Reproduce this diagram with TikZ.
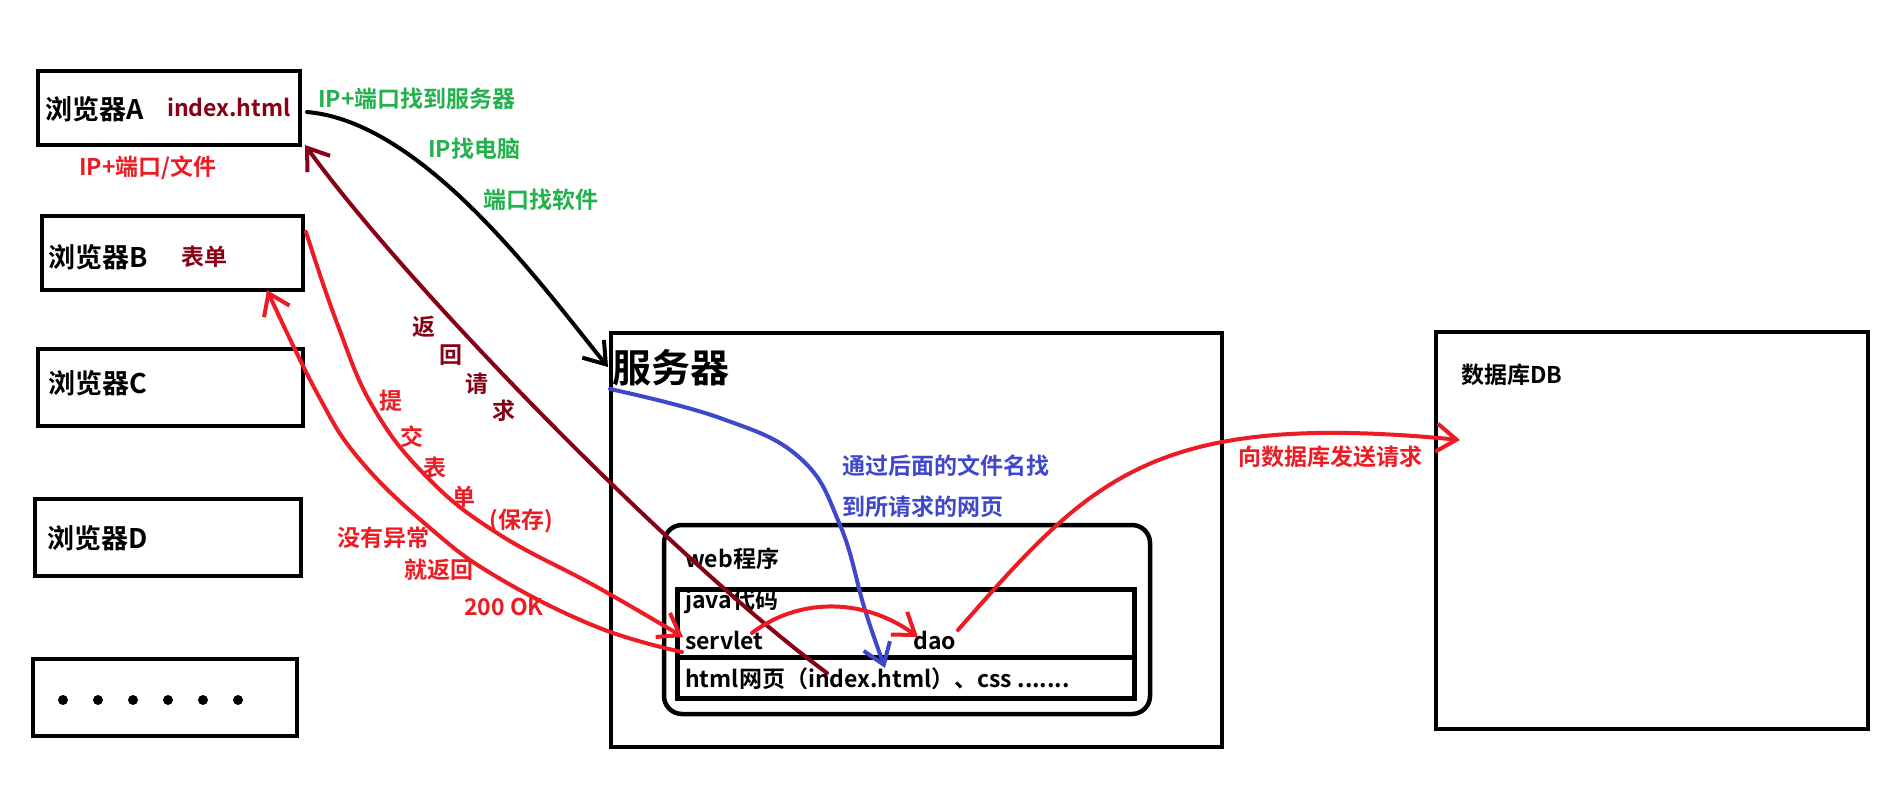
\documentclass[tikz,border=0pt]{standalone}
\usepackage{fontspec}
\setmainfont{Noto Sans CJK SC}[BoldFont={Noto Sans CJK SC Bold}]
\usetikzlibrary{arrows.meta}
\definecolor{pred}{HTML}{ED1C24}
\definecolor{pdred}{HTML}{880015}
\definecolor{pgreen}{HTML}{22B14C}
\definecolor{pblue}{HTML}{3F48CC}
\tikzset{
  box/.style={draw=black, line width=4.5pt, inner sep=0pt},
  lbl/.style={inner sep=0pt, anchor=west, font=\bfseries\fontsize{23pt}{23pt}\selectfont, text height=20.2pt, text depth=2.8pt},
  clbl/.style={lbl, anchor=center},
  blbl/.style={inner sep=0pt, anchor=west, font=\bfseries\fontsize{27pt}{27pt}\selectfont, text height=23.8pt, text depth=3.2pt},
  dotn/.style={circle, fill=black, inner sep=0pt, minimum size=10pt},
  conn/.style={line width=4pt, line cap=round, line join=round},
  tip/.style={-{Straight Barb[length=20pt,width=28pt]}},
}
\begin{document}
\begin{tikzpicture}[x=1pt,y=-1pt]
\useasboundingbox (0,0) rectangle (1894,803);
\fill[white] (0,0) rectangle (1894,803);

% browser boxes
\node[box, minimum width=262pt, minimum height=74pt] (bA) at (169,108) {};
\node[box, minimum width=261pt, minimum height=74pt] (bB) at (172.5,253) {};
\node[box, minimum width=265pt, minimum height=77pt] (bC) at (170.5,387.5) {};
\node[box, minimum width=266pt, minimum height=77pt] (bD) at (168,537.5) {};
\node[box, minimum width=264pt, minimum height=77pt] (bE) at (165,697.5) {};
% server, web, db
\node[box, minimum width=611pt, minimum height=414pt] (srv) at (916.5,540) {};
\node[box, rounded corners=18pt, minimum width=486pt, minimum height=189pt] (web) at (907,619.5) {};
\node[box, line width=5pt, minimum width=457pt, minimum height=68pt] (jv) at (905.5,623) {};
\node[box, line width=5pt, minimum width=457pt, minimum height=41pt] (ht) at (905.5,677.5) {};
\node[box, minimum width=432pt, minimum height=397pt] (db) at (1652,530.5) {};

% dots
\node[dotn] (d1) at (63,700) {};
\node[dotn] (d2) at (98,700) {};
\node[dotn] (d3) at (133,700) {};
\node[dotn] (d4) at (168,700) {};
\node[dotn] (d5) at (203,700) {};
\node[dotn] (d6) at (238,700) {};

% box labels
\node[blbl] (tA) at (45,109) {浏览器A};
\node[lbl, text=pdred] (tAi) at (167,108) {index.html};
\node[blbl] (tB) at (48,257) {浏览器B};
\node[lbl, text=pdred] (tBf) at (181,257) {表单};
\node[blbl] (tC) at (48,383) {浏览器C};
\node[blbl] (tD) at (47,538) {浏览器D};
\node[lbl, text=pred] (tIP) at (79,167) {IP+端口/文件};

\node[lbl, text=pgreen] (g1) at (318,99) {IP+端口找到服务器};
\node[lbl, text=pgreen] (g2) at (428,149) {IP找电脑};
\node[lbl, text=pgreen] (g3) at (483,200) {端口找软件};

\node[inner sep=0pt, anchor=west, font=\bfseries\fontsize{39pt}{39pt}\selectfont, text height=34.3pt, text depth=4.7pt] (tS) at (612,368) {服务器};
\node[lbl, text=pblue] (bl1) at (842,466) {通过后面的文件名找};
\node[lbl, text=pblue] (bl2) at (842,507) {到所请求的网页};

\node[lbl] (tW) at (685,559) {web程序};
\node[lbl] (tJ) at (685,600) {java代码};
\node[lbl] (tSv) at (685,641) {servlet};
\node[lbl] (tDao) at (913,641) {dao};
\node[lbl] (tH) at (685,679) {html网页（index.html）、css .......};

\node[lbl] (tDB) at (1461,375) {数据库DB};
\node[lbl, text=pred] (tReq) at (1238,457) {向数据库发送请求};

% vertical labels
\node[clbl, text=pdred] (r1) at (424,327) {返};
\node[clbl, text=pdred] (r2) at (451,355) {回};
\node[clbl, text=pdred] (r3) at (477,384) {请};
\node[clbl, text=pdred] (r4) at (504,411) {求};
\node[clbl, text=pred] (s1) at (391,401) {提};
\node[clbl, text=pred] (s2) at (412,437) {交};
\node[clbl, text=pred] (s3) at (435,468) {表};
\node[clbl, text=pred] (s4) at (464,497) {单};
\node[clbl, text=pred] (s5) at (521,520) {(保存)};
\node[clbl, text=pred] (o1) at (383,538) {没有异常};
\node[clbl, text=pred] (o2) at (439,570) {就返回};
\node[clbl, text=pred] (o3) at (504,607) {200 OK};

% connector end points
\coordinate (kA1) at (307,112);
\coordinate (kS1) at (608,367);
\coordinate (kH1) at (827,673);
\coordinate (kA2) at (305,145);
\coordinate (kB1) at (306,232);
\coordinate (kSv1) at (683,637);
\coordinate (kSv2) at (682,652);
\coordinate (kB2) at (267,290);
\coordinate (kS2) at (610,389);
\coordinate (kH2) at (885,668);
\coordinate (kSv3) at (752,633);
\coordinate (kDao1) at (918,637);
\coordinate (kDao2) at (958,630);
\coordinate (kDB) at (1460,440);

% connectors
\draw[conn, black, tip] (kA1) .. controls (425,122) and (545,290) .. (kS1);
\draw[conn, pdred, tip] (kH1) .. controls (680,565) and (410,290) .. (kA2);
\draw[conn, pred, tip] plot[smooth, tension=0.7] coordinates {(kB1) (337,323) (373,407) (427,477) (497,533) (597,587) (kSv1)};
\draw[conn, pred, tip] plot[smooth, tension=0.7] coordinates {(kSv2) (597,627) (497,577) (430,528) (360,460) (317,393) (kB2)};
\draw[conn, pblue, tip] plot[smooth, tension=0.7] coordinates {(kS2) (720,418) (800,458) (840,525) (865,610) (kH2)};
\draw[conn, pred, tip] (kSv3) .. controls (795,600) and (860,595) .. (kDao1);
\draw[conn, pred, tip] (kDao2) .. controls (1090,480) and (1150,410) .. (kDB);
\end{tikzpicture}
\end{document}
